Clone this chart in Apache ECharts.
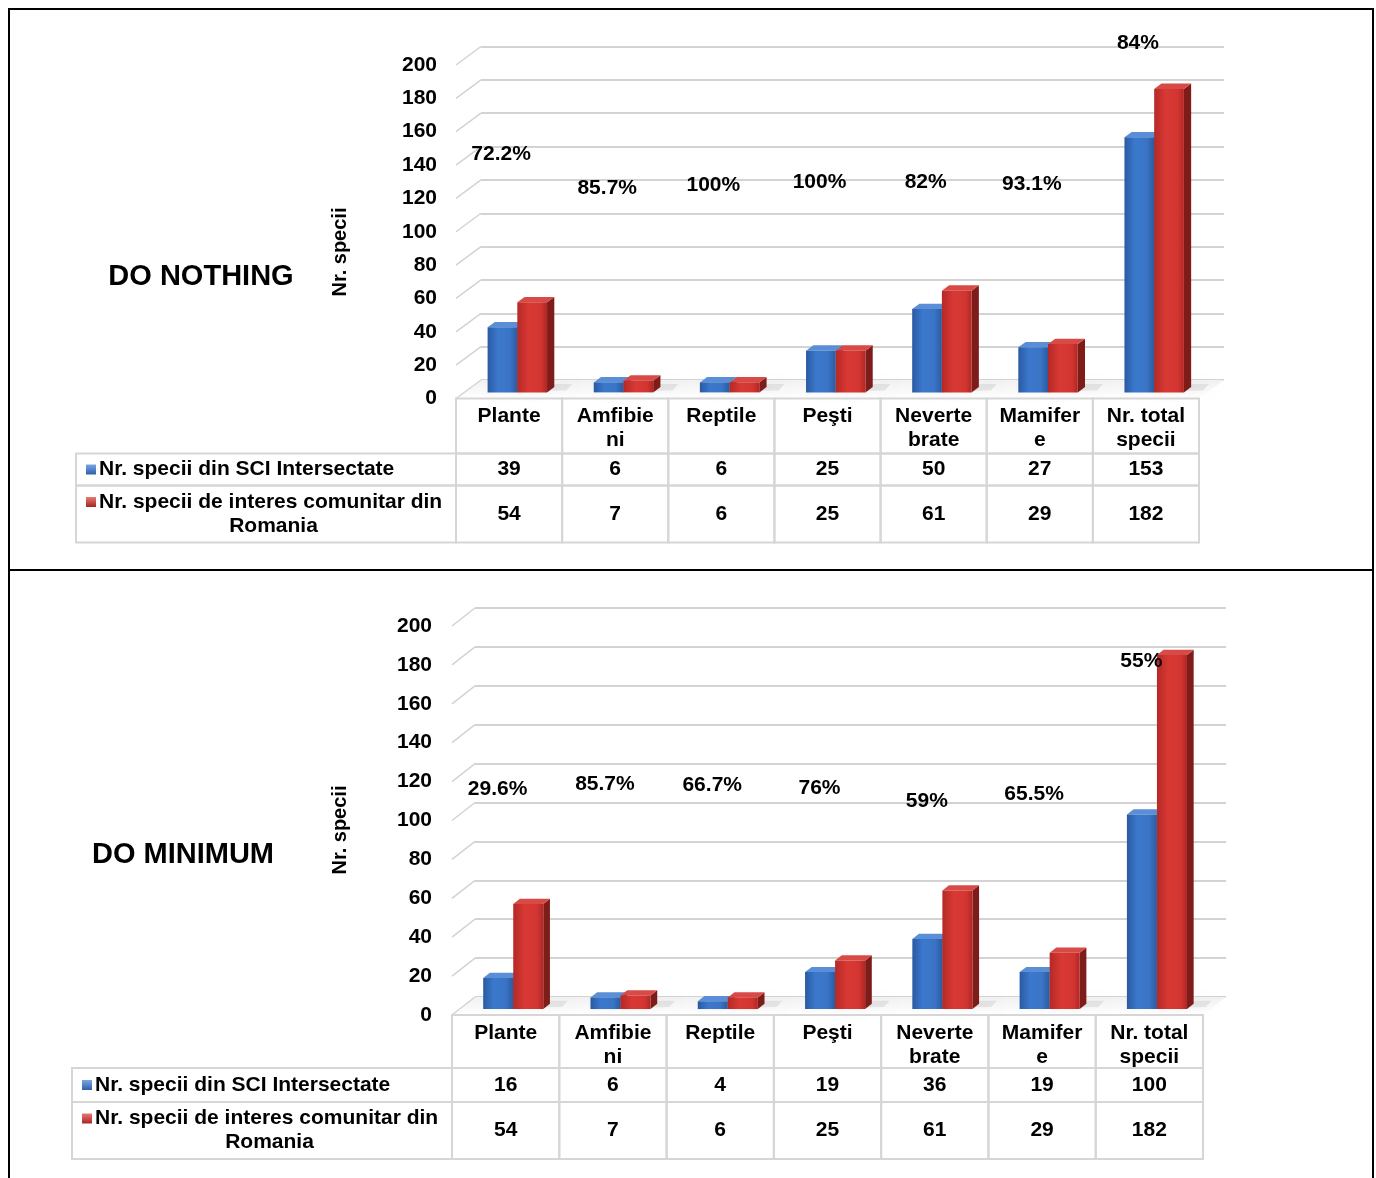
<!DOCTYPE html>
<html>
<head>
<meta charset="utf-8">
<title>Specii - DO NOTHING / DO MINIMUM</title>
<script src="https://cdn.jsdelivr.net/npm/echarts@6/dist/echarts.min.js"></script>
<style>
  html, body { margin: 0; padding: 0; background: #ffffff; }
  #chart { width: 1376px; height: 1178px; }
</style>
</head>
<body>
<div id="chart"></div>
<script>
// ---- data ----
const CATEGORY_LABELS = ['Plante', 'Amfibie\nni', 'Reptile', 'Peşti', 'Neverte\nbrate', 'Mamifer\ne', 'Nr. total\nspecii'];
const SERIES_NAMES = ['Nr. specii din SCI Intersectate', 'Nr. specii de interes comunitar din Romania'];
const AXIS_NAME = 'Nr. specii';
const Y_MIN = 0, Y_MAX = 200, Y_STEP = 20;

const NOTHING_SCI = [39, 6, 6, 25, 50, 27, 153];
const NOTHING_RO = [54, 7, 6, 25, 61, 29, 182];
const NOTHING_PCT = ['72.2%', '85.7%', '100%', '100%', '82%', '93.1%', '84%'];

const MINIMUM_SCI = [16, 6, 4, 19, 36, 19, 100];
const MINIMUM_RO = [54, 7, 6, 25, 61, 29, 182];
const MINIMUM_PCT = ['29.6%', '85.7%', '66.7%', '76%', '59%', '65.5%', '55%'];

// ---- layout & style ----
const FONT = "'Liberation Sans', Arial, Helvetica, sans-serif";
const TXT = { fontFamily: FONT, fontWeight: 'bold', fontSize: 21, fill: '#000' };
const GRID_GRAY = '#d3d3d3';
const TABLE_GRAY = '#d6d6d6';
const BAR_WIDTH = 0.28;      // fraction of a category band
const BAR_DEPTH_FROM = 0.33; // bar front plane, fraction of floor depth
const BAR_DEPTH_TO = 0.62;   // bar back plane

const PANELS = [
  {
    title: 'DO NOTHING', sci: NOTHING_SCI, ro: NOTHING_RO, pct: NOTHING_PCT,
    box: { left: 456, top: 65, width: 743, height: 333.5 }, depth: [25, -18.5],
    titleAt: [201, 277], axisNameAt: [340, 252], labelMargin: 19,
    tableLeft: 76, rows: [55, 32, 57],
    pctAt: [146.6, 126.2, 128, 129.8, 129.8, 128.6, 213.2]
  },
  {
    title: 'DO MINIMUM', sci: MINIMUM_SCI, ro: MINIMUM_RO, pct: MINIMUM_PCT,
    box: { left: 452, top: 626, width: 751, height: 389 }, depth: [23, -18],
    titleAt: [183, 855], axisNameAt: [340, 830], labelMargin: 20,
    tableLeft: 72, rows: [53, 34, 57],
    pctAt: [116.2, 118.8, 118.3, 116.7, 110, 113.6, 182]
  }
];

const TICKS = [];
for (let v = Y_MIN; v <= Y_MAX; v += Y_STEP) TICKS.push(v);

const BAR_STYLE = [
  { // blue
    front: new echarts.graphic.LinearGradient(0, 0, 1, 0, [
      { offset: 0, color: '#295aa2' }, { offset: 0.35, color: '#3b78cc' },
      { offset: 0.75, color: '#3a74c6' }, { offset: 1, color: '#2b5b9f' }]),
    top: '#5a8fd8', side: '#1e447c', key: ['#7aa6e6', '#2d5fa8']
  },
  { // red
    front: new echarts.graphic.LinearGradient(0, 0, 1, 0, [
      { offset: 0, color: '#b52926' }, { offset: 0.4, color: '#d93934' },
      { offset: 0.8, color: '#d23531' }, { offset: 1, color: '#b02724' }]),
    top: '#d84a45', side: '#7e1c1a', key: ['#e57a76', '#a82522']
  }
];

function floorRenderer(panel) {
  return function (params, api) {
    const cs = params.coordSys;
    const [dx, dy] = panel.depth;
    const y0 = api.coord([0, Y_MIN])[1];
    const children = [{
      type: 'polygon',
      shape: { points: [[cs.x, y0], [cs.x + dx, y0 + dy], [cs.x + cs.width + dx, y0 + dy], [cs.x + cs.width, y0]] },
      style: { fill: new echarts.graphic.LinearGradient(0, 0, 0, 1, [
        { offset: 0, color: '#f1f1f1' }, { offset: 1, color: '#ffffff' }]) }
    }];
    TICKS.forEach(function (v) {
      const y = api.coord([0, v])[1];
      children.push({
        type: 'line',
        shape: { x1: cs.x, y1: y, x2: cs.x + dx, y2: y + dy },
        style: { stroke: GRID_GRAY, lineWidth: 1.5 }
      });
    });
    return { type: 'group', children: children };
  };
}

function barRenderer(panel, idx) {
  const st = BAR_STYLE[idx];
  return function (params, api) {
    const cat = api.value(0), val = api.value(1);
    const base = api.coord([cat, 0]);
    const top = api.coord([cat, val]);
    const band = api.size([1, 0])[0];
    const w = band * BAR_WIDTH;
    const [dx, dy] = panel.depth;
    const x0 = base[0] - w + idx * w + dx * BAR_DEPTH_FROM;
    const x1 = x0 + w;
    const yb = base[1] + dy * BAR_DEPTH_FROM;
    const yt = top[1] + dy * BAR_DEPTH_FROM;
    const ddx = dx * (BAR_DEPTH_TO - BAR_DEPTH_FROM);
    const ddy = dy * (BAR_DEPTH_TO - BAR_DEPTH_FROM);
    return {
      type: 'group',
      children: [
        { // soft floor shadow
          type: 'polygon', z2: 0,
          shape: { points: [[x0 + 6, yb - 1], [x1 + ddx + 12, yb - 2], [x1 + ddx + 18, yb + ddy - 3], [x0 + ddx + 8, yb + ddy - 3]] },
          style: { fill: 'rgba(0,0,0,0.07)', shadowColor: 'rgba(0,0,0,0.22)', shadowBlur: 10 }
        },
        {
          type: 'polygon', z2: 1,
          shape: { points: [[x1, yt], [x1 + ddx, yt + ddy], [x1 + ddx, yb + ddy], [x1, yb]] },
          style: { fill: st.side }
        },
        {
          type: 'polygon', z2: 1,
          shape: { points: [[x0, yt], [x0 + ddx, yt + ddy], [x1 + ddx, yt + ddy], [x1, yt]] },
          style: { fill: st.top }
        },
        {
          type: 'rect', z2: 2,
          shape: { x: x0, y: yt, width: w, height: yb - yt },
          style: { fill: st.front }
        }
      ]
    };
  };
}

function pctRenderer(panel) {
  return function (params, api) {
    const p = api.coord([api.value(0), api.value(1)]);
    return {
      type: 'text', x: p[0] - 8, y: p[1],
      style: Object.assign({}, TXT, { text: panel.pct[params.dataIndex], align: 'center', verticalAlign: 'middle' })
    };
  };
}

function tableRenderer(panel) {
  return function (params, api) {
    const cs = params.coordSys;
    const i = api.value(0);
    const band = api.size([1, 0])[0];
    const cx = api.coord([i, 0])[0];
    const yTop = api.coord([i, 0])[1];
    const [h0, h1, h2] = panel.rows;
    const left = cx - band / 2;
    const rowsY = [yTop, yTop + h0, yTop + h0 + h1];
    const hs = [h0, h1, h2];
    const children = [];
    for (let r = 0; r < 3; r++) {
      children.push({
        type: 'rect', shape: { x: left, y: rowsY[r], width: band, height: hs[r] },
        style: { fill: 'none', stroke: TABLE_GRAY, lineWidth: 2 }
      });
    }
    children.push({
      type: 'text', x: cx, y: yTop + 6,
      style: Object.assign({}, TXT, { text: CATEGORY_LABELS[i], align: 'center', verticalAlign: 'top', lineHeight: 24 })
    });
    children.push({
      type: 'text', x: cx, y: rowsY[1] + h1 / 2,
      style: Object.assign({}, TXT, { text: String(api.value(1)), align: 'center', verticalAlign: 'middle' })
    });
    children.push({
      type: 'text', x: cx, y: rowsY[2] + h2 / 2,
      style: Object.assign({}, TXT, { text: String(api.value(2)), align: 'center', verticalAlign: 'middle' })
    });

    if (i === 0) {
      // legend column of the data table
      const lx = panel.tableLeft, lw = cs.x - panel.tableLeft;
      children.push({
        type: 'rect', shape: { x: lx, y: rowsY[1], width: lw, height: h1 },
        style: { fill: 'none', stroke: TABLE_GRAY, lineWidth: 2 }
      });
      children.push({
        type: 'rect', shape: { x: lx, y: rowsY[2], width: lw, height: h2 },
        style: { fill: 'none', stroke: TABLE_GRAY, lineWidth: 2 }
      });
      const keyY = [rowsY[1] + h1 / 2, rowsY[2] + h2 / 2 - 12];
      [0, 1].forEach(function (s) {
        children.push({
          type: 'rect', shape: { x: lx + 10, y: keyY[s] - 5, width: 10, height: 10 },
          style: { fill: new echarts.graphic.LinearGradient(0, 0, 0, 1, [
            { offset: 0, color: BAR_STYLE[s].key[0] }, { offset: 1, color: BAR_STYLE[s].key[1] }]) }
        });
      });
      children.push({
        type: 'text', x: lx + 23, y: keyY[0],
        style: Object.assign({}, TXT, { text: SERIES_NAMES[0], align: 'left', verticalAlign: 'middle' })
      });
      const textLeft = lx + 23, textRight = cs.x - 8;
      children.push({
        type: 'text', x: (textLeft + textRight) / 2, y: rowsY[2] + h2 / 2,
        style: Object.assign({}, TXT, {
          text: SERIES_NAMES[1], align: 'center', verticalAlign: 'middle',
          width: textRight - textLeft + 6, overflow: 'break', lineHeight: 24
        })
      });
    }
    return { type: 'group', children: children };
  };
}

const grids = [], xAxes = [], yAxes = [], series = [], graphics = [];

PANELS.forEach(function (p, pi) {
  const fi = pi * 2, bi = pi * 2 + 1;
  const b = p.box;
  grids.push({ left: b.left, top: b.top, width: b.width, height: b.height, containLabel: false, outerBoundsMode: 'none' });
  grids.push({ left: b.left + p.depth[0], top: b.top + p.depth[1], width: b.width, height: b.height, containLabel: false, outerBoundsMode: 'none' });

  xAxes.push({ gridIndex: fi, type: 'category', data: CATEGORY_LABELS, show: false });
  xAxes.push({ gridIndex: bi, type: 'category', data: CATEGORY_LABELS, show: false });

  yAxes.push({
    gridIndex: fi, type: 'value', min: Y_MIN, max: Y_MAX, interval: Y_STEP,
    axisLine: { show: false }, axisTick: { show: false }, splitLine: { show: false },
    axisLabel: { margin: p.labelMargin, color: '#000', fontSize: 21, fontWeight: 'bold', fontFamily: FONT }
  });
  yAxes.push({
    gridIndex: bi, type: 'value', min: Y_MIN, max: Y_MAX, interval: Y_STEP,
    axisLine: { show: false }, axisTick: { show: false }, axisLabel: { show: false },
    splitLine: { show: true, lineStyle: { color: GRID_GRAY, width: 2 } }
  });

  series.push({
    type: 'custom', name: 'floor' + pi, xAxisIndex: fi, yAxisIndex: fi, z: 1, silent: true,
    data: [[0, 0]], renderItem: floorRenderer(p)
  });
  [p.sci, p.ro].forEach(function (vals, si) {
    series.push({
      type: 'custom', name: SERIES_NAMES[si], xAxisIndex: fi, yAxisIndex: fi, z: 3, silent: true,
      encode: { x: 0, y: 1 },
      data: vals.map(function (v, i) { return [i, v]; }),
      renderItem: barRenderer(p, si)
    });
  });
  series.push({
    type: 'custom', name: 'ratio' + pi, xAxisIndex: fi, yAxisIndex: fi, z: 6, silent: true,
    data: p.pctAt.map(function (y, i) { return [i, y]; }),
    renderItem: pctRenderer(p)
  });
  series.push({
    type: 'custom', name: 'table' + pi, xAxisIndex: fi, yAxisIndex: fi, z: 5, silent: true,
    encode: { x: 0 },
    data: CATEGORY_LABELS.map(function (_, i) { return [i, p.sci[i], p.ro[i]]; }),
    renderItem: tableRenderer(p)
  });

  graphics.push({
    type: 'text', x: p.titleAt[0], y: p.titleAt[1],
    style: { text: p.title, fontFamily: FONT, fontWeight: 'bold', fontSize: 29, fill: '#000', align: 'center', verticalAlign: 'middle' }
  });
  graphics.push({
    type: 'text', x: p.axisNameAt[0], y: p.axisNameAt[1], rotation: Math.PI / 2,
    style: { text: AXIS_NAME, fontFamily: FONT, fontWeight: 'bold', fontSize: 20, fill: '#000', align: 'center', verticalAlign: 'middle' }
  });
});

// page frame
graphics.push({ type: 'rect', shape: { x: 9, y: 9, width: 1364, height: 1200 }, style: { fill: 'none', stroke: '#000', lineWidth: 2 } });
graphics.push({ type: 'line', shape: { x1: 9, y1: 570, x2: 1373, y2: 570 }, style: { stroke: '#000', lineWidth: 2 } });

const chart = echarts.init(document.getElementById('chart'));
chart.setOption({
  animation: false,
  backgroundColor: '#ffffff',
  grid: grids,
  xAxis: xAxes,
  yAxis: yAxes,
  series: series,
  graphic: graphics
});
</script>
</body>
</html>
